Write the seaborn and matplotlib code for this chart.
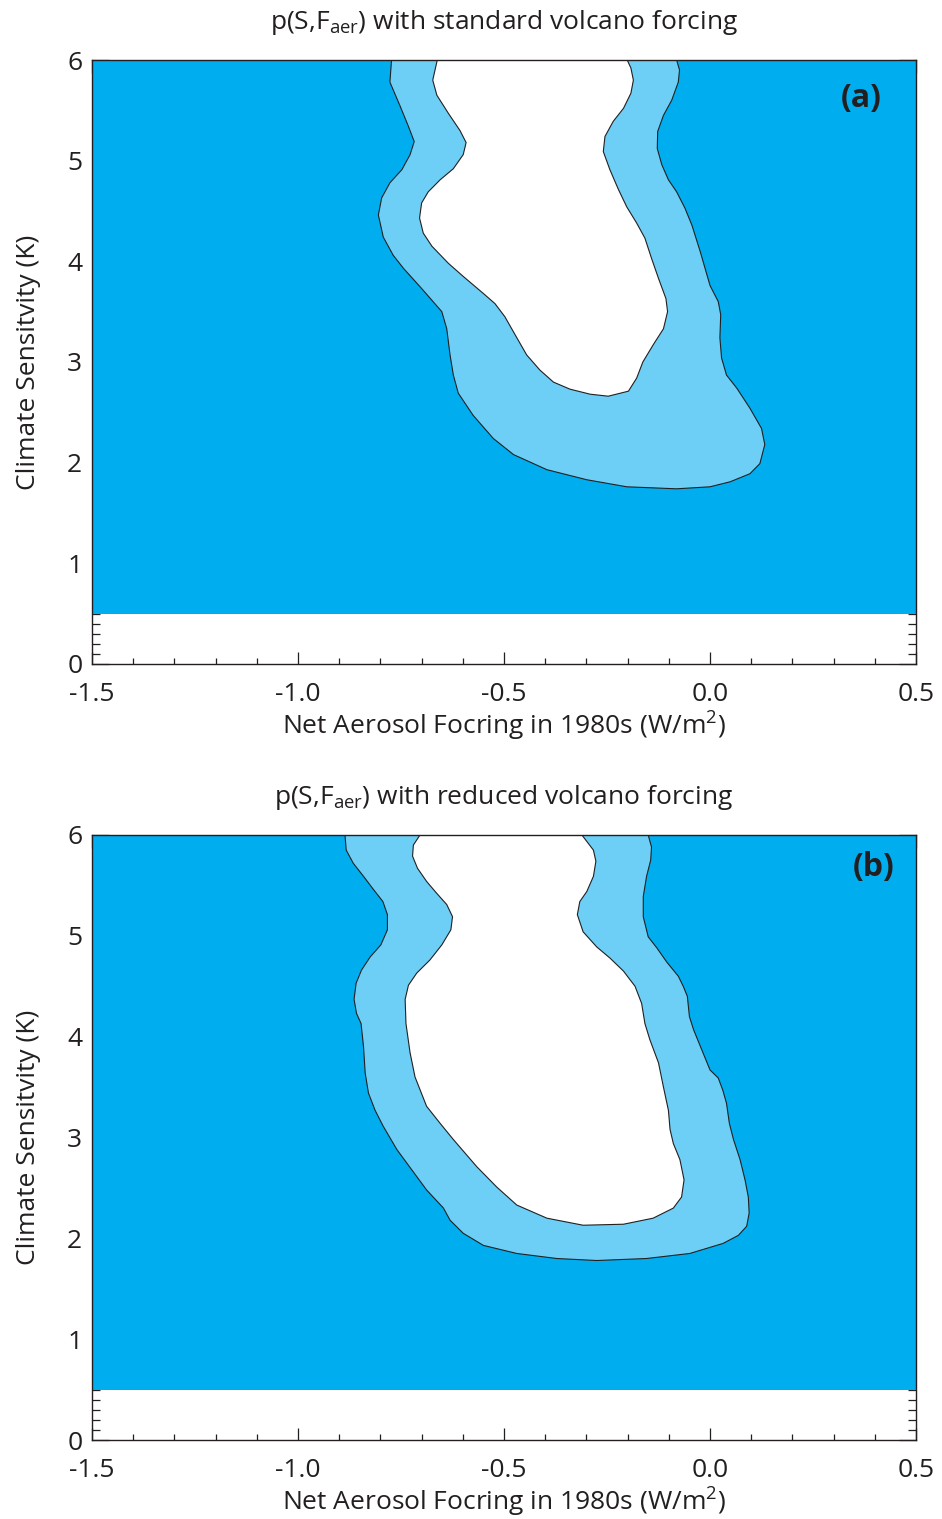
import numpy as np
import pandas as pd
import matplotlib
matplotlib.use("Agg")
import matplotlib.pyplot as plt
import seaborn as sns
from matplotlib.ticker import MultipleLocator

# contour: (aerosol forcing, climate sensitivity)
# panel (a): outer contour (light blue / dark blue edge)
a_outer_x = [-0.773, -0.777, -0.752, -0.732, -0.718, -0.728, -0.748, -0.777, -0.797, -0.805,
             -0.793, -0.769, -0.744, -0.700, -0.651, -0.639, -0.631, -0.623, -0.611, -0.575,
             -0.526, -0.477, -0.396, -0.299, -0.202, -0.081, 0.000, 0.049, 0.097, 0.121,
             0.133, 0.125, 0.097, 0.065, 0.040, 0.028, 0.024, 0.026, 0.020, 0.000,
             -0.024, -0.044, -0.061, -0.081, -0.101, -0.117, -0.128, -0.127, -0.113, -0.093,
             -0.077, -0.074, -0.081]
a_outer_y = [6.00, 5.78, 5.54, 5.34, 5.19, 5.06, 4.91, 4.78, 4.63, 4.46,
             4.24, 4.06, 3.93, 3.73, 3.50, 3.33, 3.07, 2.87, 2.69, 2.47,
             2.24, 2.08, 1.93, 1.83, 1.76, 1.74, 1.76, 1.81, 1.89, 1.99,
             2.18, 2.34, 2.54, 2.74, 2.87, 3.04, 3.24, 3.47, 3.60, 3.76,
             4.10, 4.36, 4.53, 4.69, 4.81, 4.96, 5.12, 5.29, 5.45, 5.60,
             5.78, 5.90, 6.00]
# panel (a): inner contour (white / light blue edge)
a_inner_x = [-0.662, -0.673, -0.663, -0.635, -0.607, -0.592, -0.599, -0.623, -0.655, -0.684,
             -0.700, -0.705, -0.696, -0.675, -0.635, -0.599, -0.550, -0.522, -0.498, -0.473,
             -0.445, -0.413, -0.380, -0.340, -0.291, -0.247, -0.198, -0.178, -0.163, -0.138,
             -0.113, -0.103, -0.107, -0.125, -0.142, -0.158, -0.178, -0.202, -0.223, -0.243,
             -0.259, -0.255, -0.235, -0.210, -0.192, -0.186, -0.192, -0.201]
a_inner_y = [6.00, 5.80, 5.65, 5.47, 5.30, 5.18, 5.06, 4.92, 4.81, 4.69,
             4.58, 4.43, 4.28, 4.15, 3.98, 3.85, 3.68, 3.58, 3.45, 3.27,
             3.07, 2.92, 2.80, 2.73, 2.68, 2.66, 2.71, 2.84, 3.00, 3.17,
             3.33, 3.50, 3.63, 3.83, 4.03, 4.23, 4.38, 4.54, 4.72, 4.91,
             5.09, 5.24, 5.39, 5.52, 5.67, 5.80, 5.92, 6.00]

# panel (b): outer contour
b_outer_x = [-0.886, -0.883, -0.866, -0.841, -0.817, -0.794, -0.783, -0.783, -0.799, -0.825,
             -0.846, -0.859, -0.864, -0.858, -0.847, -0.841, -0.837, -0.829, -0.813, -0.793,
             -0.760, -0.724, -0.688, -0.647, -0.631, -0.599, -0.550, -0.469, -0.372, -0.275,
             -0.154, -0.049, 0.032, 0.069, 0.089, 0.095, 0.093, 0.085, 0.073, 0.057,
             0.047, 0.040, 0.031, 0.020, 0.000, -0.020, -0.040, -0.050, -0.055, -0.065,
             -0.077, -0.105, -0.129, -0.150, -0.162, -0.162, -0.154, -0.144, -0.142, -0.150]
b_outer_y = [6.00, 5.85, 5.72, 5.59, 5.46, 5.34, 5.21, 5.06, 4.91, 4.79,
             4.66, 4.53, 4.37, 4.23, 4.13, 3.90, 3.64, 3.44, 3.27, 3.11,
             2.88, 2.68, 2.48, 2.30, 2.18, 2.05, 1.93, 1.85, 1.80, 1.78,
             1.80, 1.85, 1.95, 2.03, 2.12, 2.25, 2.41, 2.58, 2.78, 2.98,
             3.14, 3.34, 3.47, 3.59, 3.67, 3.87, 4.07, 4.20, 4.40, 4.50,
             4.60, 4.74, 4.88, 4.99, 5.19, 5.39, 5.59, 5.75, 5.88, 6.00]
# panel (b): inner contour
b_inner_x = [-0.704, -0.720, -0.722, -0.710, -0.688, -0.663, -0.639, -0.625, -0.629, -0.651,
             -0.680, -0.712, -0.732, -0.740, -0.738, -0.728, -0.716, -0.688, -0.655, -0.623,
             -0.566, -0.518, -0.469, -0.396, -0.308, -0.210, -0.138, -0.089, -0.069, -0.063,
             -0.073, -0.089, -0.097, -0.101, -0.113, -0.125, -0.146, -0.158, -0.166, -0.182,
             -0.210, -0.243, -0.275, -0.308, -0.322, -0.316, -0.299, -0.283, -0.277, -0.283,
             -0.311]
b_inner_y = [6.00, 5.90, 5.79, 5.67, 5.54, 5.42, 5.31, 5.19, 5.06, 4.91,
             4.76, 4.63, 4.51, 4.37, 4.13, 3.84, 3.60, 3.31, 3.14, 2.98,
             2.71, 2.51, 2.33, 2.20, 2.13, 2.14, 2.20, 2.30, 2.41, 2.58,
             2.78, 2.94, 3.08, 3.27, 3.50, 3.74, 3.97, 4.13, 4.33, 4.50,
             4.65, 4.78, 4.89, 5.04, 5.21, 5.34, 5.44, 5.59, 5.74, 5.85,
             6.00]

titles = ["with standard volcano forcing", "with reduced volcano forcing"]
panel_tags = ["(a)", "(b)"]
s_floor = 0.5   # lower bound of the sensitivity prior

DARK = "#00AEEF"
LIGHT = "#6DCFF6"
INK = "#231F20"

sns.set_theme(style="ticks")
plt.rcParams["font.family"] = ["Open Sans", "DejaVu Sans"]
plt.rcParams["text.color"] = INK
plt.rcParams["axes.labelcolor"] = INK
plt.rcParams["xtick.color"] = INK
plt.rcParams["ytick.color"] = INK

fig = plt.figure(figsize=(9.42, 15.19), dpi=100)
ax_a = fig.add_axes([0.0977, 0.5629, 0.8747, 0.3976])
ax_b = fig.add_axes([0.0977, 0.0520, 0.8747, 0.3983])

panels = [
    (ax_a, a_outer_x, a_outer_y, a_inner_x, a_inner_y),
    (ax_b, b_outer_x, b_outer_y, b_inner_x, b_inner_y),
]
tag_pos = [(0.934, 0.937), (0.948, 0.947)]

for i, (ax, ox, oy, ix, iy) in enumerate(panels):
    ax.fill_between([-1.5, 0.5], s_floor, 6.0, color=DARK, lw=0, zorder=1)
    ax.fill(ox, oy, color=LIGHT, lw=0, zorder=2)
    ax.fill(ix, iy, color="white", lw=0, zorder=3)
    for cx, cy in [(ox, oy), (ix, iy)]:
        line = pd.DataFrame({"x": cx, "y": cy})
        sns.lineplot(data=line, x="x", y="y", sort=False, estimator=None,
                     color=INK, lw=0.8, ax=ax, zorder=4)

    ax.set_xlim(-1.5, 0.5)
    ax.set_ylim(0, 6)
    ax.xaxis.set_major_locator(MultipleLocator(0.5))
    ax.xaxis.set_minor_locator(MultipleLocator(0.1))
    ax.yaxis.set_major_locator(MultipleLocator(1))
    ax.yaxis.set_minor_locator(MultipleLocator(0.1))
    ax.xaxis.set_major_formatter(matplotlib.ticker.FormatStrFormatter("%.1f"))
    ax.tick_params(axis="both", which="both", direction="in", top=True, right=True,
                   width=0.9, labelsize=19)
    ax.tick_params(axis="x", which="major", length=9, pad=13)
    ax.tick_params(axis="x", which="minor", length=4.5)
    ax.tick_params(axis="y", which="major", length=12, pad=7)
    ax.tick_params(axis="y", which="minor", length=6)
    for sp in ax.spines.values():
        sp.set_linewidth(1.0)
        sp.set_color(INK)
        sp.set_zorder(5)

    ax.set_xlabel("Net Aerosol Focring in 1980s (W/m$^\\mathregular{2}$)", fontsize=19, labelpad=1)
    ax.set_ylabel("Climate Sensitvity (K)", fontsize=19, labelpad=19)
    ax.set_title("p(S,F$_\\mathregular{aer}$) " + titles[i], fontsize=19, pad=22)
    ax.text(tag_pos[i][0], tag_pos[i][1], panel_tags[i],
            transform=ax.transAxes, ha="center", va="center", fontsize=23,
            fontweight="bold", zorder=6)

fig.savefig("out.png", dpi=100)
